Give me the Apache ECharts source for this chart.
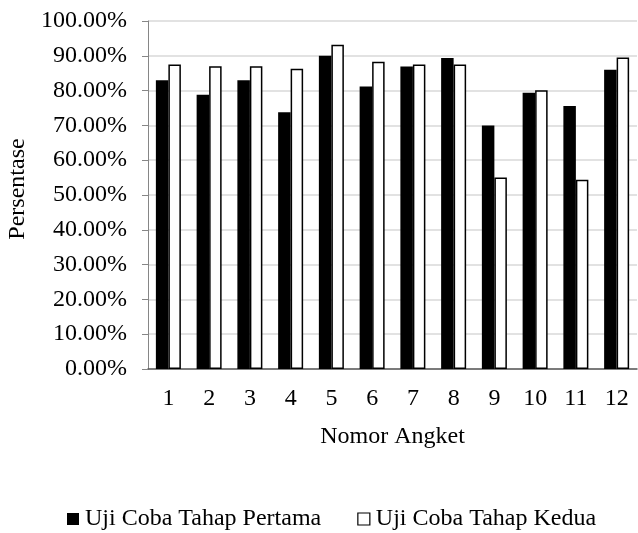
<!DOCTYPE html>
<html><head><meta charset="utf-8">
<script src="https://cdn.jsdelivr.net/npm/echarts@6/dist/echarts.min.js"></script>
<style>html,body{margin:0;padding:0;background:#fff}#c{width:638px;height:533px}</style>
</head><body><div id="c"></div>
<script>
const categories = ['1','2','3','4','5','6','7','8','9','10','11','12'];
const tahapPertama = [83.0, 78.8, 83.0, 73.8, 90.0, 81.2, 86.9, 89.4, 70.0, 79.4, 75.6, 86.0];
const tahapKedua = [87.5, 87.0, 87.0, 86.3, 93.2, 88.3, 87.5, 87.5, 55.0, 80.1, 54.4, 89.5];
const seriesNames = ['Uji Coba Tahap Pertama', 'Uji Coba Tahap Kedua'];
const FONT = 'Liberation Serif';
const FS = 24;
const chart = echarts.init(document.getElementById('c'));
chart.setOption({
  animation: false,
  textStyle: {fontFamily: FONT, color: '#000'},
  grid: {left: 148, right: 1, top: 21, bottom: 164, containLabel: false},
  legend: {
    top: 502, left: 62, itemGap: 36, itemWidth: 12, itemHeight: 12,
    textStyle: {fontFamily: FONT, fontSize: FS, color: '#000', padding: [0,0,0,1]},
    data: [
      {name: seriesNames[0], icon: 'rect', itemStyle: {color: '#000', borderColor: '#000', borderWidth: 0}},
      {name: seriesNames[1], icon: 'rect', itemStyle: {color: '#fff', borderColor: '#000', borderWidth: 1.2}}
    ]
  },
  graphic: [{
    type: 'text', x: 18, y: 189, rotation: Math.PI / 2,
    style: {text: 'Persentase', fontFamily: FONT, fontSize: FS, fill: '#000', align: 'center', verticalAlign: 'middle'}
  }],
  xAxis: {
    type: 'category', data: categories,
    name: 'Nomor Angket', nameLocation: 'middle', nameGap: 56,
    nameTextStyle: {fontFamily: FONT, fontSize: FS, color: '#000'},
    axisLine: {lineStyle: {color: '#595959', width: 1.5}},
    axisTick: {show: false},
    axisLabel: {fontFamily: FONT, fontSize: FS, color: '#000', margin: 18}
  },
  yAxis: {
    type: 'value', min: 0, max: 100, interval: 10,
    axisLine: {show: true, lineStyle: {color: '#868686', width: 1}},
    axisTick: {show: true, length: 6, lineStyle: {color: '#868686'}},
    splitLine: {lineStyle: {color: '#d9d9d9', width: 1.5}},
    axisLabel: {fontFamily: FONT, fontSize: FS, color: '#000', margin: 21,
      formatter: v => v.toFixed(2) + '%'}
  },
  series: [
    {name: seriesNames[0], type: 'bar', data: tahapPertama, barWidth: 12.5, barGap: '0%',
     itemStyle: {color: '#000', borderColor: '#000', borderWidth: 0}},
    {name: seriesNames[1], type: 'bar', data: tahapKedua, barWidth: 12.5,
     itemStyle: {color: '#fff', borderColor: '#000', borderWidth: 1.5}}
  ]
});
</script></body></html>
